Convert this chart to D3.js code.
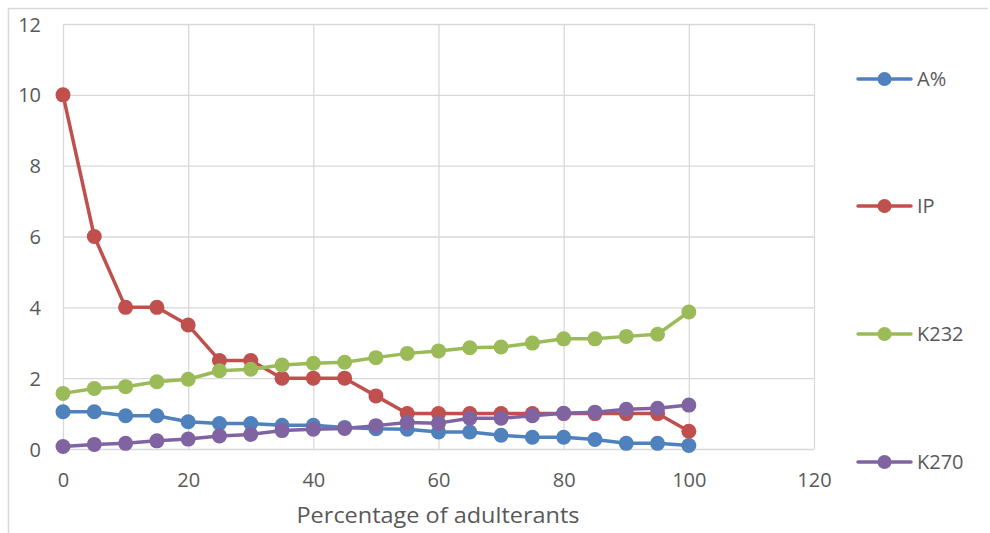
<!DOCTYPE html>
<html>
<head>
<meta charset="utf-8">
<script src="https://cdn.jsdelivr.net/npm/d3@7"></script>
<style>
  html, body { margin: 0; padding: 0; background: #fff; }
  svg { display: block; font-family: "Open Sans", "Liberation Sans", sans-serif; }
</style>
</head>
<body>
<svg id="chart" width="990" height="533"></svg>
<script>
// Adulterant percentage (x) and the measured quality indices
const adulterants = [0, 5, 10, 15, 20, 25, 30, 35, 40, 45, 50, 55, 60, 65, 70, 75, 80, 85, 90, 95, 100];
const acidity = [1.05, 1.05, 0.94, 0.94, 0.77, 0.72, 0.72, 0.67, 0.67, 0.61, 0.57, 0.56, 0.48, 0.48, 0.39, 0.33, 0.33, 0.27, 0.16, 0.16, 0.10];
const peroxide = [10, 6, 4, 4, 3.5, 2.5, 2.5, 2, 2, 2, 1.5, 1, 1, 1, 1, 1, 1, 1, 1, 1, 0.5];
const k232 = [1.57, 1.71, 1.76, 1.90, 1.97, 2.21, 2.25, 2.37, 2.42, 2.45, 2.58, 2.70, 2.77, 2.86, 2.88, 2.99, 3.11, 3.11, 3.18, 3.24, 3.87];
const k270 = [0.07, 0.13, 0.16, 0.23, 0.28, 0.37, 0.41, 0.52, 0.56, 0.58, 0.66, 0.75, 0.73, 0.87, 0.87, 0.94, 1.01, 1.04, 1.12, 1.15, 1.24];
const seriesNames = ["A%", "IP", "K232", "K270"];
const seriesColors = ["#4F81BD", "#C0504D", "#9BBB59", "#8064A2"];
const xTicks = [0, 20, 40, 60, 80, 100, 120];
const yTicks = [0, 2, 4, 6, 8, 10, 12];
const xTitle = "Percentage of adulterants";

const series = [acidity, peroxide, k232, k270].map((vals, i) => ({
  name: seriesNames[i],
  color: seriesColors[i],
  points: vals.map((v, j) => ({ x: adulterants[j], y: v }))
}));

const svg = d3.select("#chart");
const plot = { left: 63, right: 814, top: 24, bottom: 449 };
const textColor = "#595959";
const gridColor = "#d9d9d9";

// chart frame
svg.append("path")
  .attr("d", "M8.5,540V8.5H988")
  .attr("fill", "none")
  .attr("stroke", gridColor)
  .attr("stroke-width", 1.5);

const x = d3.scaleLinear().domain([0, 120]).range([plot.left, plot.right]);
const y = d3.scaleLinear().domain([0, 12]).range([plot.bottom, plot.top]);

// gridlines
const gx = svg.append("g")
  .attr("transform", `translate(0,${plot.bottom})`)
  .call(d3.axisBottom(x).tickValues(xTicks).tickSize(-(plot.bottom - plot.top)).tickFormat(""));
gx.select(".domain").remove();
gx.selectAll(".tick line").attr("stroke", gridColor).attr("stroke-width", 1.3);

const gy = svg.append("g")
  .attr("transform", `translate(${plot.left},0)`)
  .call(d3.axisLeft(y).tickValues(yTicks).tickSize(-(plot.right - plot.left)).tickFormat(""));
gy.select(".domain").remove();
gy.selectAll(".tick line").attr("stroke", gridColor).attr("stroke-width", 1.3);

// tick labels
const xl = svg.append("g")
  .attr("transform", `translate(0,${plot.bottom})`)
  .call(d3.axisBottom(x).tickValues(xTicks).tickSize(0).tickPadding(0).tickFormat(d3.format("d")));
xl.select(".domain").remove();
xl.selectAll(".tick text")
  .attr("y", 31).attr("dy", "0.35em")
  .attr("fill", textColor).attr("font-size", 20)
  .attr("font-family", "Open Sans");

const yl = svg.append("g")
  .attr("transform", `translate(${plot.left},0)`)
  .call(d3.axisLeft(y).tickValues(yTicks).tickSize(0).tickPadding(0).tickFormat(d3.format("d")));
yl.select(".domain").remove();
yl.selectAll(".tick text")
  .attr("x", -22).attr("dy", "0.35em")
  .attr("fill", textColor).attr("font-size", 20)
  .attr("font-family", "Open Sans");

// x-axis title
svg.append("text")
  .attr("x", 438).attr("y", 523)
  .attr("text-anchor", "middle")
  .attr("fill", textColor)
  .attr("font-size", 21)
  .attr("textLength", 283)
  .attr("lengthAdjust", "spacingAndGlyphs")
  .text(xTitle);

// series lines and markers
const line = d3.line().x(d => x(d.x)).y(d => y(d.y));
const sg = svg.selectAll("g.series").data(series).join("g").attr("class", "series");
sg.append("path")
  .attr("d", d => line(d.points))
  .attr("fill", "none")
  .attr("stroke", d => d.color)
  .attr("stroke-width", 3.5)
  .attr("stroke-linejoin", "round");
sg.selectAll("circle").data(d => d.points.map(p => ({ ...p, color: d.color }))).join("circle")
  .attr("cx", d => x(d.x)).attr("cy", d => y(d.y))
  .attr("r", 7.5)
  .attr("fill", d => d.color);

// legend
const legY = [79, 206, 334, 462];
const lg = svg.selectAll("g.legend").data(series).join("g")
  .attr("class", "legend")
  .attr("transform", (d, i) => `translate(858,${legY[i]})`);
lg.append("line")
  .attr("x1", 0).attr("x2", 53)
  .attr("stroke", d => d.color).attr("stroke-width", 3.5).attr("stroke-linecap", "round");
lg.append("circle").attr("cx", 26.5).attr("r", 7).attr("fill", d => d.color);
lg.append("text")
  .attr("x", 59).attr("dy", "0.35em")
  .attr("fill", textColor).attr("font-size", 20)
  .text(d => d.name);
</script>
</body>
</html>
